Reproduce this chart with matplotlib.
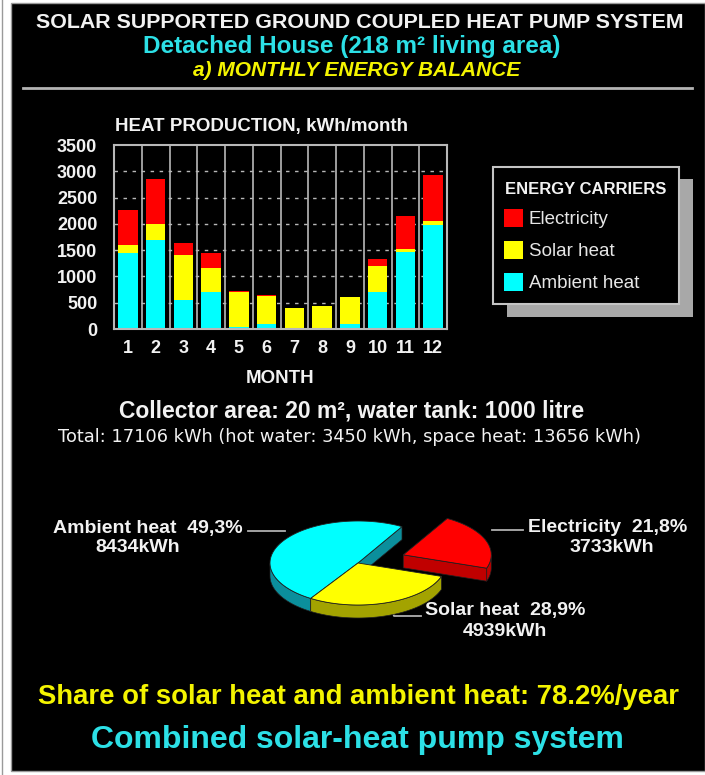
import numpy as np
import matplotlib
matplotlib.use("Agg")
import matplotlib.pyplot as plt
from matplotlib.patches import Rectangle, Polygon

plt.rcParams['font.family'] = ['Liberation Sans', 'DejaVu Sans']

# ---- monthly heat production, kWh/month ----
months = list(range(1, 13))
month_labels = [str(m) for m in months]
ambient_heat = [1440, 1700, 550, 700, 30, 100, 0, 0, 100, 700, 1465, 1980]
solar_heat = [160, 300, 850, 460, 680, 530, 390, 440, 500, 490, 65, 80]
electricity = [670, 850, 230, 290, 10, 10, 0, 0, 0, 140, 620, 870]
y_ticks = [0, 500, 1000, 1500, 2000, 2500, 3000, 3500]

carriers = ["Electricity", "Solar heat", "Ambient heat"]
carrier_colors = ["#ff0000", "#ffff00", "#00ffff"]

# ---- yearly totals per energy carrier ----
pie_names = ["Ambient heat", "Solar heat", "Electricity"]
pie_kwh = [8434, 4939, 3733]
pie_top_colors = ["#00ffff", "#ffff00", "#ff0000"]
pie_side_colors = ["#0b8f9c", "#a3a300", "#c00000"]
pie_explode = [0.0, 0.0, 0.55]
hot_water_kwh = 3450
space_heat_kwh = 13656

W, H = 705, 775
fig = plt.figure(figsize=(W / 100, H / 100), dpi=100)
fig.patch.set_facecolor("white")

WHITE = "#f2f2f2"
CYAN = "#2ce0e6"
YELLOW = "#f4f400"
GRID = "#b8b8b8"

# background panel and free text, laid out in pixel units
bg = fig.add_axes([0, 0, 1, 1], zorder=0)
bg.set_xlim(0, W)
bg.set_ylim(H, 0)
bg.axis("off")
bg.add_patch(Rectangle((11, 3), W - 11, 768, facecolor="black",
                       edgecolor="#9a9a9a", lw=1))
bg.plot([2, 2], [0, H], color="#9a9a9a", lw=1)
bg.plot([23, 692], [88, 88], color="#b4b4b4", lw=2)

bg.text(360, 22, "SOLAR SUPPORTED GROUND COUPLED HEAT PUMP SYSTEM",
        color=WHITE, fontsize=15.4, fontweight="bold", ha="center", va="center")
bg.text(352, 47, "Detached House (218 m² living area)",
        color=CYAN, fontsize=17.5, fontweight="bold", ha="center", va="center")
bg.text(357, 71, "a) MONTHLY ENERGY BALANCE",
        color=YELLOW, fontsize=15, fontweight="bold", fontstyle="italic",
        ha="center", va="center")
bg.text(115, 126, "HEAT PRODUCTION, kWh/month", color=WHITE, fontsize=13.5,
        fontweight="bold", ha="left", va="center")

total_kwh = sum(pie_kwh)
bg.text(352, 411, "Collector area: 20 m², water tank: 1000 litre",
        color=WHITE, fontsize=16.5, fontweight="bold", ha="center", va="center")
bg.text(349, 437,
        f"Total: {total_kwh} kWh (hot water: {hot_water_kwh} kWh, "
        f"space heat: {space_heat_kwh} kWh)",
        color=WHITE, fontsize=12.8, family=["DejaVu Sans"],
        ha="center", va="center")

renewable_share = 100 * (pie_kwh[0] + pie_kwh[1]) / total_kwh
bg.text(358, 697,
        f"Share of solar heat and ambient heat: {renewable_share:.1f}%/year",
        color=YELLOW, fontsize=19.8, fontweight="bold", ha="center", va="center")
bg.text(357, 740, "Combined solar-heat pump system", color=CYAN,
        fontsize=23, fontweight="bold", ha="center", va="center")

# legend box with drop shadow
bg.add_patch(Rectangle((507, 179), 186, 138, facecolor="#a8a8a8",
                       edgecolor="none"))
bg.add_patch(Rectangle((493, 167), 186, 137, facecolor="black",
                       edgecolor="#c4c4c4", lw=1.5))
bg.text(505, 189, "ENERGY CARRIERS", color=WHITE, fontsize=12,
        fontweight="bold", ha="left", va="center")
for i, (name, col) in enumerate(zip(carriers, carrier_colors)):
    yc = 218 + i * 32
    bg.add_patch(Rectangle((504, yc - 9), 19, 18, facecolor=col,
                           edgecolor="none"))
    bg.text(529, yc + 1, name, color="#e6e6e6", fontsize=13.5,
            ha="left", va="center")

# ---- stacked monthly bars ----
ax = fig.add_axes([114 / W, 1 - 329 / H, 333 / W, 184 / H], zorder=2)
ax.set_facecolor("black")
bar_w = 0.7
ax.bar(months, ambient_heat, bar_w, color=carrier_colors[2], zorder=2)
bottom2 = np.array(ambient_heat)
ax.bar(months, solar_heat, bar_w, bottom=bottom2, color=carrier_colors[1],
       zorder=2)
bottom3 = bottom2 + np.array(solar_heat)
ax.bar(months, electricity, bar_w, bottom=bottom3, color=carrier_colors[0],
       zorder=2)
ax.set_xlim(0.5, 12.5)
ax.set_ylim(0, 3500)
for xs in np.arange(1.5, 12.5, 1.0):
    ax.axvline(xs, color=GRID, lw=1.2, zorder=1)
for yv in y_ticks[1:-1]:
    ax.axhline(yv, color=GRID, lw=1, linestyle=(0, (2.5, 4)), zorder=1)
ax.set_xticks(months, labels=month_labels, fontsize=13, fontweight="bold")
ax.set_yticks(y_ticks, labels=[str(v) for v in y_ticks], fontsize=13,
              fontweight="bold")
ax.tick_params(length=0, colors=WHITE)
ax.tick_params(axis="y", pad=12)
ax.tick_params(axis="x", pad=8)
for sp in ax.spines.values():
    sp.set_color(GRID)
    sp.set_linewidth(1.5)
ax.set_xlabel("MONTH", color=WHITE, fontsize=13.5, fontweight="bold",
              labelpad=9)

# ---- exploded 3-D pie of yearly carrier totals ----
R = 88.0           # radius in pixels
cx, cy = 358, 563  # pie centre in pixels
squash = 42 / 88
depth = 13 / 88
pax = fig.add_axes([0, 0, 1, 1], zorder=1)
pax.set_xlim(-cx / R, (W - cx) / R)
pax.set_ylim(-(H - cy) / R, cy / R)
pax.axis("off")
pax.patch.set_alpha(0)

fracs = np.array(pie_kwh) / total_kwh
start_deg = 60.0
edges = start_deg + 360 * np.concatenate([[0], np.cumsum(fracs)])


def rim(theta_deg, off):
    t = np.radians(theta_deg)
    return np.column_stack([np.cos(t) + off[0], squash * np.sin(t) + off[1]])


sides, tops = [], []
n = len(pie_kwh)
for i in range(n):
    t1, t2 = edges[i], edges[i + 1]
    mid = np.radians(0.5 * (t1 + t2))
    off = (pie_explode[i] * np.cos(mid), pie_explode[i] * squash * np.sin(mid))
    centre = np.array([[off[0], off[1]]])
    # outer curved wall: the part of the rim that faces the viewer
    tt = np.linspace(t1, t2, 200)
    vis = np.sin(np.radians(tt)) <= 0
    runs = np.split(np.arange(len(tt)), np.where(np.diff(vis.astype(int)) != 0)[0] + 1)
    for r in runs:
        if vis[r[0]] and len(r) > 1:
            top = rim(tt[r], off)
            bot = top - [0, depth]
            sides.append((np.vstack([top, bot[::-1]]), pie_side_colors[i]))
    # radial walls next to an exploded neighbour
    prev_i, next_i = (i - 1) % n, (i + 1) % n
    if np.cos(np.radians(t1)) > 0 and (pie_explode[i] or pie_explode[prev_i]):
        p = rim([t1], off)
        sides.append((np.vstack([centre, p, p - [0, depth], centre - [0, depth]]),
                      pie_side_colors[i]))
    if np.cos(np.radians(t2)) < 0 and (pie_explode[i] or pie_explode[next_i]):
        p = rim([t2], off)
        sides.append((np.vstack([centre, p, p - [0, depth], centre - [0, depth]]),
                      pie_side_colors[i]))
    tops.append((np.vstack([centre, rim(np.linspace(t1, t2, 200), off)]),
                 pie_top_colors[i]))

for poly, col in sides:
    pax.add_patch(Polygon(poly, closed=True, facecolor=col,
                          edgecolor="#202020", lw=0.5))
for poly, col in tops:
    pax.add_patch(Polygon(poly, closed=True, facecolor=col,
                          edgecolor="#202020", lw=0.6))

# pie labels with leader lines (pixel layout)
pct = [f"{100 * f:.1f}%".replace(".", ",") for f in fracs]
LEAD = "#b0b0b0"
PIE_FS = 14
bg.plot([248, 285], [531, 531], color=LEAD, lw=1.3)
bg.text(243, 528, f"{pie_names[0]}  {pct[0]}", color=WHITE, fontsize=PIE_FS,
        fontweight="bold", ha="right", va="center")
bg.text(138, 548, f"{pie_kwh[0]}kWh", color=WHITE, fontsize=PIE_FS,
        fontweight="bold", ha="center", va="center")

bg.plot([492, 523], [530, 530], color=LEAD, lw=1.3)
bg.text(528, 528, f"{pie_names[2]}  {pct[2]}", color=WHITE, fontsize=PIE_FS,
        fontweight="bold", ha="left", va="center")
bg.text(612, 548, f"{pie_kwh[2]}kWh", color=WHITE, fontsize=PIE_FS,
        fontweight="bold", ha="center", va="center")

bg.plot([391, 394, 421], [607, 616, 616], color=LEAD, lw=1.3)
bg.text(425, 611, f"{pie_names[1]}  {pct[1]}", color=WHITE, fontsize=PIE_FS,
        fontweight="bold", ha="left", va="center")
bg.text(505, 631, f"{pie_kwh[1]}kWh", color=WHITE, fontsize=PIE_FS,
        fontweight="bold", ha="center", va="center")

fig.savefig("out.png", dpi=100, facecolor=fig.get_facecolor())
